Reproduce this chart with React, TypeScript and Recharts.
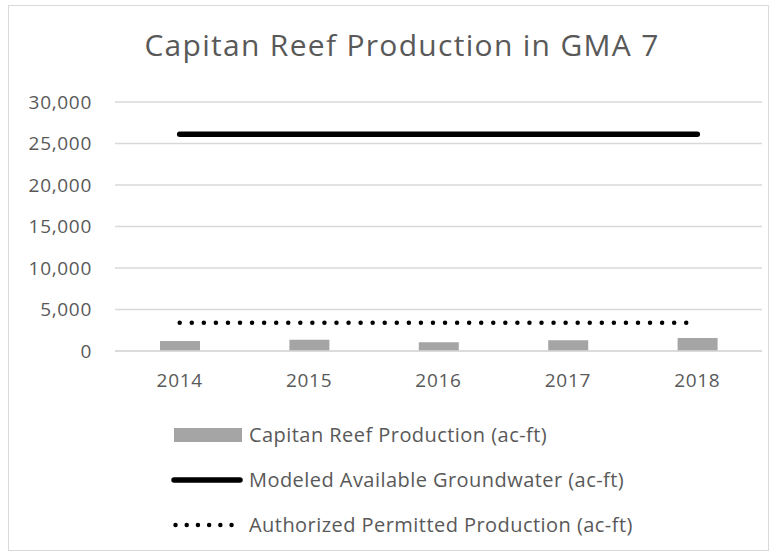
import React from "react";
import { ComposedChart, Bar, Line, XAxis, YAxis, CartesianGrid } from "recharts";

const years = ["2014", "2015", "2016", "2017", "2018"];
const reefProduction = [1200, 1370, 1040, 1290, 1580];
const modeledAvailable = [26100, 26100, 26100, 26100, 26100];
const authorizedPermitted = [3400, 3400, 3400, 3400, 3400];
const yTicks = [0, 5000, 10000, 15000, 20000, 25000, 30000];

const seriesNames = [
  "Capitan Reef Production (ac-ft)",
  "Modeled Available Groundwater (ac-ft)",
  "Authorized Permitted Production (ac-ft)",
];

const data = years.map((year, i) => ({
  year,
  production: reefProduction[i],
  modeled: modeledAvailable[i],
  authorized: authorizedPermitted[i],
}));

const textColor = "#595959";
const font = "'Open Sans', sans-serif";
const tickStyle = { fill: textColor, fontSize: 19, fontFamily: font, letterSpacing: 0.7 };

function LegendIcon({ kind }: { kind: number }) {
  if (kind === 0) {
    return (
      <svg width={72} height={20} style={{ flexShrink: 0 }}>
        <rect x={3} y={3} width={68} height={14} fill="#a5a5a5" />
      </svg>
    );
  }
  if (kind === 1) {
    return (
      <svg width={72} height={20} style={{ flexShrink: 0 }}>
        <line x1={3} y1={10} x2={69} y2={10} stroke="#000" strokeWidth={5.5} strokeLinecap="round" />
      </svg>
    );
  }
  return (
    <svg width={72} height={20} style={{ flexShrink: 0 }}>
      <line x1={4.5} y1={10} x2={61.6} y2={10} stroke="#000" strokeWidth={4.5} strokeLinecap="round" strokeDasharray="0.01 11.2" />
    </svg>
  );
}

// legend drawn as an overlay so the plot area keeps its size
function StackedLegend() {
  return (
    <div
      style={{
        position: "absolute",
        left: 171,
        top: 412,
        fontFamily: font,
        fontSize: 20,
        letterSpacing: 0.45,
        color: textColor,
      }}
    >
      {seriesNames.map((name, i) => (
        <div key={name} style={{ display: "flex", alignItems: "center", height: 45 }}>
          <LegendIcon kind={i} />
          <span style={{ marginLeft: 6, whiteSpace: "nowrap" }}>{name}</span>
        </div>
      ))}
    </div>
  );
}

export default function App() {
  return (
    <div style={{ position: "absolute", left: 0, top: 0, width: 777, height: 556, background: "#fff" }}>
      <div
        style={{
          position: "absolute",
          left: 8,
          top: 5,
          width: 761,
          height: 546,
          border: "1px solid #d9d9d9",
          boxSizing: "border-box",
        }}
      />
      <div
        style={{
          position: "absolute",
          left: 0,
          width: 804,
          top: 24,
          textAlign: "center",
          fontFamily: font,
          fontSize: 30,
          letterSpacing: 1.3,
          lineHeight: "41px",
          color: textColor,
          whiteSpace: "nowrap",
        }}
      >
        Capitan Reef Production in GMA 7
      </div>
      <ComposedChart
        width={777}
        height={556}
        data={data}
        margin={{ top: 102, right: 15, bottom: 175, left: 0 }}
        style={{ position: "absolute", left: 0, top: 0 }}
      >
        <CartesianGrid vertical={false} stroke="#d9d9d9" strokeWidth={1.3} />
        <XAxis
          dataKey="year"
          height={30}
          axisLine={{ stroke: "#d9d9d9", strokeWidth: 1.3 }}
          tickLine={false}
          tickSize={0}
          tickMargin={23}
          tick={tickStyle}
        />
        <YAxis
          width={115}
          domain={[0, 30000]}
          ticks={yTicks}
          axisLine={false}
          tickLine={false}
          tickSize={0}
          tickMargin={23}
          tickFormatter={(v: number) => v.toLocaleString("en-US")}
          tick={tickStyle}
        />
        <Bar dataKey="production" fill="#a5a5a5" barSize={40} isAnimationActive={false} />
        <Line
          dataKey="modeled"
          stroke="#000"
          strokeWidth={5.5}
          strokeLinecap="round"
          dot={false}
          activeDot={false}
          isAnimationActive={false}
        />
        <Line
          dataKey="authorized"
          stroke="#000"
          strokeWidth={4.5}
          strokeLinecap="round"
          strokeDasharray="0.01 12.05"
          dot={false}
          activeDot={false}
          isAnimationActive={false}
        />
      </ComposedChart>
      <StackedLegend />
    </div>
  );
}
